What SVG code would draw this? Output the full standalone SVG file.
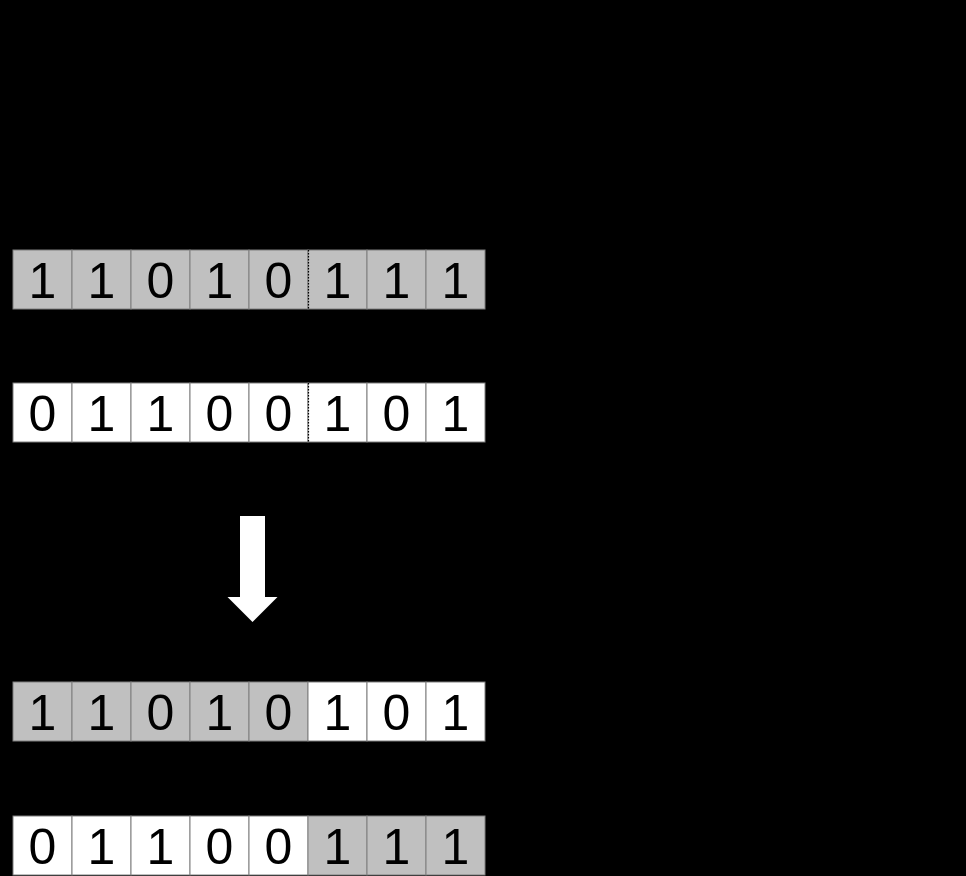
<svg xmlns="http://www.w3.org/2000/svg" width="966" height="876" viewBox="0 0 966 876">
<style>
.g{fill:#c0c0c0;stroke:#7f7f7f;stroke-width:1}
.w{fill:#ffffff;stroke:#7f7f7f;stroke-width:1}
.t{font-family:"Liberation Sans",Arial,sans-serif;font-size:50px;fill:#000;text-anchor:middle}
.d{stroke:#000;stroke-width:1.2;stroke-dasharray:1.5,1.5;fill:none}
</style>
<rect x="0" y="0" width="966" height="876" fill="#000"/>
<defs>
<g id="cells">
<rect x="13" y="0" width="59" height="59"/>
</g>
</defs>
<g id="row1">
<rect class="g" x="13" y="250" width="59" height="59"/><rect class="g" x="72" y="250" width="59" height="59"/><rect class="g" x="131" y="250" width="59" height="59"/><rect class="g" x="190" y="250" width="59" height="59"/><rect class="g" x="249" y="250" width="59" height="59"/><rect class="g" x="308" y="250" width="59" height="59"/><rect class="g" x="367" y="250" width="59" height="59"/><rect class="g" x="426" y="250" width="59" height="59"/>
<line class="d" x1="308.5" y1="250" x2="308.5" y2="309"/>
<text class="t" x="42.5" y="298">1</text><text class="t" x="101.5" y="298">1</text><text class="t" x="160.5" y="298">0</text><text class="t" x="219.5" y="298">1</text><text class="t" x="278.5" y="298">0</text><text class="t" x="337.5" y="298">1</text><text class="t" x="396.5" y="298">1</text><text class="t" x="455.5" y="298">1</text>
</g>
<g id="row2">
<rect class="w" x="13" y="383" width="59" height="59"/><rect class="w" x="72" y="383" width="59" height="59"/><rect class="w" x="131" y="383" width="59" height="59"/><rect class="w" x="190" y="383" width="59" height="59"/><rect class="w" x="249" y="383" width="59" height="59"/><rect class="w" x="308" y="383" width="59" height="59"/><rect class="w" x="367" y="383" width="59" height="59"/><rect class="w" x="426" y="383" width="59" height="59"/>
<line class="d" x1="308.5" y1="383" x2="308.5" y2="442"/>
<text class="t" x="42.5" y="431">0</text><text class="t" x="101.5" y="431">1</text><text class="t" x="160.5" y="431">1</text><text class="t" x="219.5" y="431">0</text><text class="t" x="278.5" y="431">0</text><text class="t" x="337.5" y="431">1</text><text class="t" x="396.5" y="431">0</text><text class="t" x="455.5" y="431">1</text>
</g>
<g id="arrow">
<polygon points="240,516 265,516 265,597 277.5,597 252.5,622 227.5,597 240,597" fill="#fff"/>
</g>
<g id="row3">
<rect class="g" x="13" y="682" width="59" height="59"/><rect class="g" x="72" y="682" width="59" height="59"/><rect class="g" x="131" y="682" width="59" height="59"/><rect class="g" x="190" y="682" width="59" height="59"/><rect class="g" x="249" y="682" width="59" height="59"/><rect class="w" x="308" y="682" width="59" height="59"/><rect class="w" x="367" y="682" width="59" height="59"/><rect class="w" x="426" y="682" width="59" height="59"/>
<text class="t" x="42.5" y="730">1</text><text class="t" x="101.5" y="730">1</text><text class="t" x="160.5" y="730">0</text><text class="t" x="219.5" y="730">1</text><text class="t" x="278.5" y="730">0</text><text class="t" x="337.5" y="730">1</text><text class="t" x="396.5" y="730">0</text><text class="t" x="455.5" y="730">1</text>
</g>
<g id="row4">
<rect class="w" x="13" y="816" width="59" height="59"/><rect class="w" x="72" y="816" width="59" height="59"/><rect class="w" x="131" y="816" width="59" height="59"/><rect class="w" x="190" y="816" width="59" height="59"/><rect class="w" x="249" y="816" width="59" height="59"/><rect class="g" x="308" y="816" width="59" height="59"/><rect class="g" x="367" y="816" width="59" height="59"/><rect class="g" x="426" y="816" width="59" height="59"/>
<text class="t" x="42.5" y="864">0</text><text class="t" x="101.5" y="864">1</text><text class="t" x="160.5" y="864">1</text><text class="t" x="219.5" y="864">0</text><text class="t" x="278.5" y="864">0</text><text class="t" x="337.5" y="864">1</text><text class="t" x="396.5" y="864">1</text><text class="t" x="455.5" y="864">1</text>
</g>
<g id="connectors"></g>
</svg>
